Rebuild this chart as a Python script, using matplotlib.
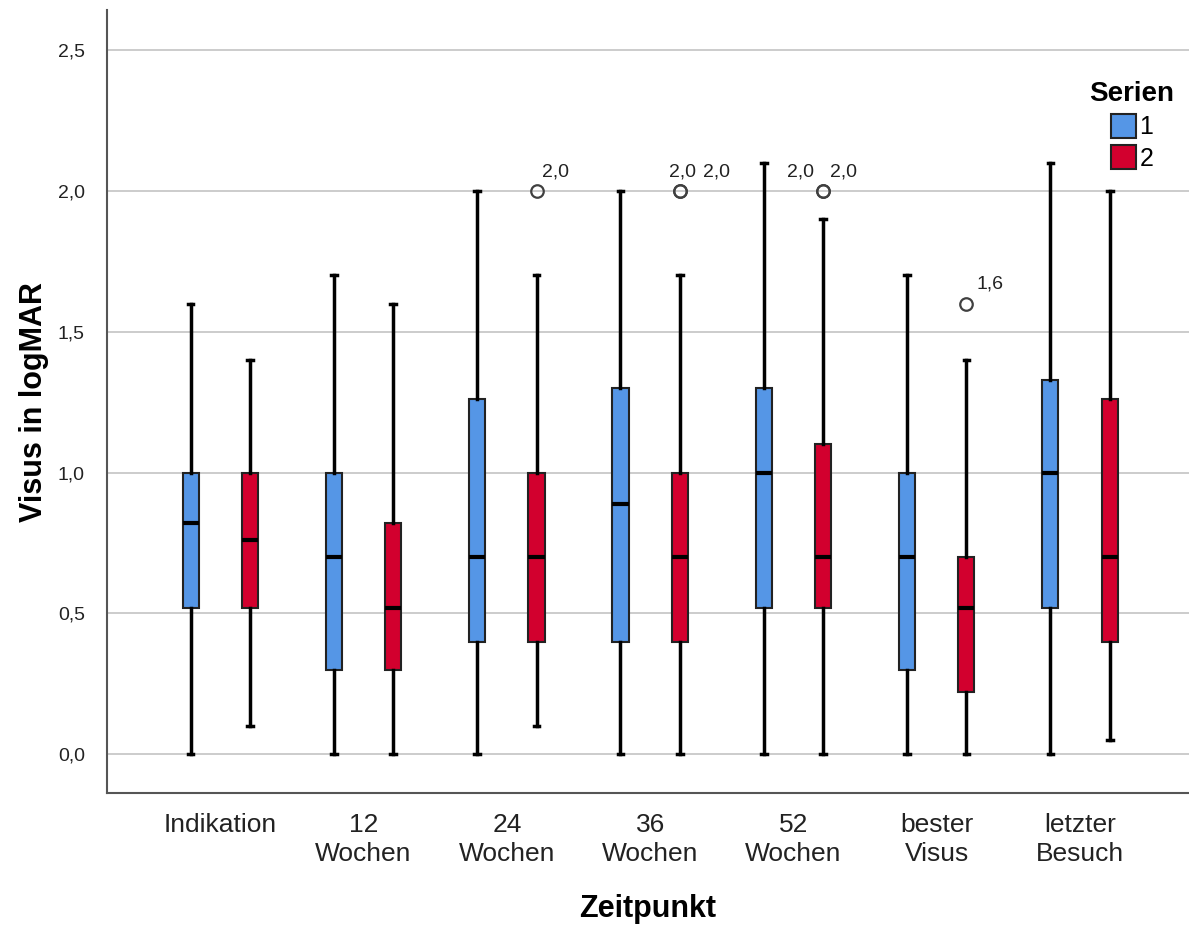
import matplotlib
matplotlib.use("Agg")
import matplotlib.pyplot as plt
from matplotlib.patches import Patch
import numpy as np

plt.rcParams['font.family'] = ['Liberation Sans', 'DejaVu Sans']

# Zeitpunkte
categories = ["Indikation", "12\nWochen", "24\nWochen", "36\nWochen",
              "52\nWochen", "bester\nVisus", "letzter\nBesuch"]

# Serie 1: whisker low, Q1, median, Q3, whisker high
s1_low = [0.0, 0.0, 0.0, 0.0, 0.0, 0.0, 0.0]
s1_q1 = [0.52, 0.30, 0.40, 0.40, 0.52, 0.30, 0.52]
s1_med = [0.82, 0.70, 0.70, 0.89, 1.00, 0.70, 1.00]
s1_q3 = [1.00, 1.00, 1.26, 1.30, 1.30, 1.00, 1.33]
s1_high = [1.60, 1.70, 2.00, 2.00, 2.10, 1.70, 2.10]
s1_fliers = [[], [], [], [], [], [], []]

# Serie 2
s2_low = [0.10, 0.0, 0.10, 0.0, 0.0, 0.0, 0.05]
s2_q1 = [0.52, 0.30, 0.40, 0.40, 0.52, 0.22, 0.40]
s2_med = [0.76, 0.52, 0.70, 0.70, 0.70, 0.52, 0.70]
s2_q3 = [1.00, 0.82, 1.00, 1.00, 1.10, 0.70, 1.26]
s2_high = [1.40, 1.60, 1.70, 1.70, 1.90, 1.40, 2.00]
s2_fliers = [[], [], [2.0], [2.0, 2.0], [2.0, 2.0], [1.6], []]

blue = "#5596E6"
red = "#D2002E"
off = 0.207
bw = 0.112

# label placement for outliers of serie 2 (offset in points, alignment)
label_pos = {
    2: [(4, "left")],
    3: [(2, "center"), (17, "left")],
    4: [(-16, "center"), (5, "left")],
    5: [(7, "left")],
}


def make_stats(low, q1, med, q3, high, fl):
    out = []
    for i in range(len(low)):
        out.append(dict(whislo=low[i], q1=q1[i], med=med[i], q3=q3[i],
                        whishi=high[i], fliers=fl[i]))
    return out


fig = plt.figure(figsize=(11.89, 9.32), dpi=100)
ax = fig.add_axes([0.09, 0.149, 0.91, 0.84])

for stats, col, sh in [(make_stats(s1_low, s1_q1, s1_med, s1_q3, s1_high, s1_fliers), blue, -off),
                       (make_stats(s2_low, s2_q1, s2_med, s2_q3, s2_high, s2_fliers), red, off)]:
    pos = np.arange(len(categories)) + sh
    ax.bxp(stats, positions=pos, widths=bw, patch_artist=True,
           showfliers=True, capwidths=0.04,
           boxprops=dict(facecolor=col, edgecolor="#222222", linewidth=1.5),
           medianprops=dict(color="black", linewidth=3),
           whiskerprops=dict(color="black", linewidth=2.5),
           capprops=dict(color="black", linewidth=2.5),
           flierprops=dict(marker="o", markerfacecolor="none",
                           markeredgecolor="#404040", markersize=9,
                           markeredgewidth=1.6))

# labels of outliers (serie 2)
for i, fl in enumerate(s2_fliers):
    x = i + off
    for k, v in enumerate(fl):
        txt = ("%.1f" % v).replace(".", ",")
        dx, ha = label_pos[i][k]
        ax.annotate(txt, (x, v), xytext=(dx, 14), textcoords="offset points",
                    fontsize=14, color="#222222", ha=ha, va="center")

ax.set_xlim(-0.79, 6.76)
ax.set_ylim(-0.1385, 2.642)
ax.set_yticks([0.0, 0.5, 1.0, 1.5, 2.0, 2.5])
ax.set_yticklabels(["0,0", "0,5", "1,0", "1,5", "2,0", "2,5"], fontsize=14, color="#222222")
ax.set_xticks(np.arange(len(categories)))
ax.set_xticklabels(categories, fontsize=19, color="#222222", linespacing=1.3)
ax.tick_params(axis="both", length=0)
ax.tick_params(axis="y", pad=16)
ax.tick_params(axis="x", pad=14)
ax.yaxis.grid(True, color="#c8c8c8", linewidth=1.3)
ax.set_axisbelow(True)
for s in ["top", "right"]:
    ax.spines[s].set_visible(False)
for s in ["left", "bottom"]:
    ax.spines[s].set_color("#555555")
    ax.spines[s].set_linewidth(1.5)

ax.set_ylabel("Visus in logMAR", fontsize=22, fontweight="bold", labelpad=6)
ax.set_xlabel("Zeitpunkt", fontsize=22, fontweight="bold", labelpad=20)

handles = [Patch(facecolor=blue, edgecolor="#222222", linewidth=1.5, label="1"),
           Patch(facecolor=red, edgecolor="#222222", linewidth=1.5, label="2")]
leg = ax.legend(handles=handles, title="Serien", loc="upper right",
                bbox_to_anchor=(0.998, 0.925), frameon=False, fontsize=18,
                handlelength=1.0, handleheight=1.1, handletextpad=0.15,
                labelspacing=0.25, borderpad=0, alignment="center")
leg.get_title().set_fontweight("bold")
leg.get_title().set_fontsize(20)

fig.savefig("out.png", dpi=100)
